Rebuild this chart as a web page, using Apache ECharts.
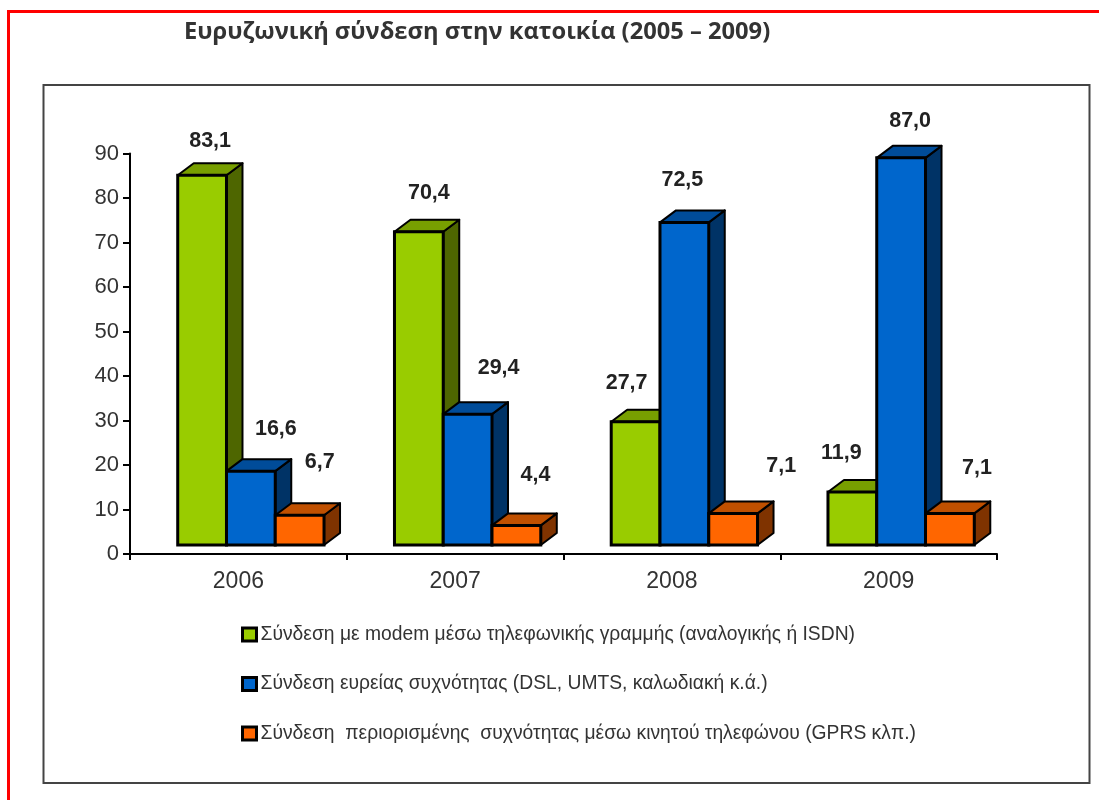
<!DOCTYPE html>
<html>
<head>
<meta charset="utf-8">
<title>Ευρυζωνική σύνδεση στην κατοικία</title>
<style>
html,body{margin:0;padding:0;background:#fff;}
#main{width:1099px;height:800px;}
</style>
<script src="https://cdn.jsdelivr.net/npm/echarts@6/dist/echarts.min.js"></script>
</head>
<body>
<div id="main"></div>
<script>
var years=['2006','2007','2008','2009'];
var seriesNames=[
	'Σύνδεση με modem μέσω τηλεφωνικής γραμμής (αναλογικής ή ISDN)',
	'Σύνδεση ευρείας συχνότητας (DSL, UMTS, καλωδιακή κ.ά.)',
	'Σύνδεση  περιορισμένης  συχνότητας μέσω κινητού τηλεφώνου (GPRS κλπ.)'
];
var modemValues=[83.1,70.4,27.7,11.9];
var broadbandValues=[16.6,29.4,72.5,87.0];
var mobileValues=[6.7,4.4,7.1,7.1];

var frontColors=['#99cc00','#0066cc','#ff6600'];
var sideColors=['#4e6600','#003366','#7f3300'];
var topColors=['#789f00','#004c99','#c05000'];

// the labels are hand placed in the original, offset from the bar's front top centre
var labelOffsets=[
	[[8,-34],[10,-39],[-9,-39],[-11,-39]],
	[[25,-42],[31,-46],[-2,-42],[9,-37]],
	[[20,-53],[19,-50],[48,-47],[27,-45]]
];

var depthX=16,depthY=12;//3d depth of the bars
var floorLift=9;//bars stand above the axis line
var fontName='"Liberation Sans",Arial,sans-serif';

function renderBar(params,api){
	var s=params.seriesIndex;
	var band=api.size([1,0])[0];
	var w=band*0.225;
	var p=api.coord([api.value(0),api.value(1)]);
	var base=api.coord([api.value(0),0])[1]-floorLift;
	var cx=p[0]+12.5+(s-1)*w;
	var x0=cx-w/2,x1=cx+w/2,y0=p[1]-floorLift;
	var off=labelOffsets[s][params.dataIndex];
	return {
		type:'group',
		children:[
			{
				type:'polygon',
				shape:{points:[[x1,y0],[x1+depthX,y0-depthY],[x1+depthX,base-depthY],[x1,base]]},
				style:{fill:sideColors[s],stroke:'#000',lineWidth:2,lineJoin:'round'}
			},
			{
				type:'polygon',
				shape:{points:[[x0,y0],[x0+depthX,y0-depthY],[x1+depthX,y0-depthY],[x1,y0]]},
				style:{fill:topColors[s],stroke:'#000',lineWidth:2,lineJoin:'round'}
			},
			{
				type:'rect',
				shape:{x:x0,y:y0,width:w,height:base-y0},
				style:{fill:frontColors[s],stroke:'#000',lineWidth:3}
			},
			{
				type:'text',
				x:cx+off[0],
				y:y0+off[1],
				style:{
					text:api.value(1).toFixed(1).replace('.',','),
					font:'bold 21.5px '+fontName,
					fill:'#222',
					align:'center',
					verticalAlign:'middle'
				}
			}
		]
	};
}

function makeSeries(i,values){
	return {
		type:'custom',
		name:seriesNames[i],
		renderItem:renderBar,
		itemStyle:{color:frontColors[i]},
		encode:{x:0,y:1},
		data:values.map(function(v,k){return [k,v];})
	};
}

var mychart=echarts.init(document.getElementById('main'));
var option={
	animation:false,
	backgroundColor:'#fff',
	title:{
		text:'Ευρυζωνική σύνδεση στην κατοικία (2005 – 2009)',
		left:184,
		top:20,
		padding:0,
		textStyle:{fontFamily:'"Open Sans",'+fontName,fontSize:23.7,fontWeight:'bold',color:'#333'}
	},
	grid:{left:130,right:102,top:153.5,bottom:246},
	xAxis:{
		type:'category',
		data:years,
		axisLine:{lineStyle:{color:'#000',width:2}},
		axisTick:{show:true,alignWithLabel:false,length:6,lineStyle:{color:'#000',width:2}},
		axisLabel:{fontFamily:fontName,fontSize:23,color:'#333',margin:16}
	},
	yAxis:{
		type:'value',
		min:0,
		max:90,
		interval:10,
		splitLine:{show:false},
		axisLine:{show:true,lineStyle:{color:'#000',width:2}},
		axisTick:{show:true,length:7,lineStyle:{color:'#000',width:2}},
		axisLabel:{fontFamily:fontName,fontSize:22,color:'#333',margin:11}
	},
	legend:{
		orient:'vertical',
		left:241,
		top:625,
		padding:0,
		itemWidth:14,
		itemHeight:13,
		itemGap:30.5,
		icon:'rect',
		itemStyle:{borderColor:'#000',borderWidth:3},
		textStyle:{fontFamily:fontName,fontSize:19.3,color:'#333',padding:[0,0,0,-1]},
		selectedMode:false
	},
	graphic:[
		{type:'line',shape:{x1:8.5,y1:11.5,x2:1099,y2:11.5},style:{stroke:'#ff0000',lineWidth:3}},
		{type:'line',shape:{x1:8.5,y1:10,x2:8.5,y2:800},style:{stroke:'#ff0000',lineWidth:3}},
		{type:'rect',shape:{x:43.5,y:85,width:1046,height:698},style:{fill:'none',stroke:'#444',lineWidth:2}}
	],
	series:[
		makeSeries(0,modemValues),
		makeSeries(1,broadbandValues),
		makeSeries(2,mobileValues)
	]
};
mychart.setOption(option);
</script>
</body>
</html>
